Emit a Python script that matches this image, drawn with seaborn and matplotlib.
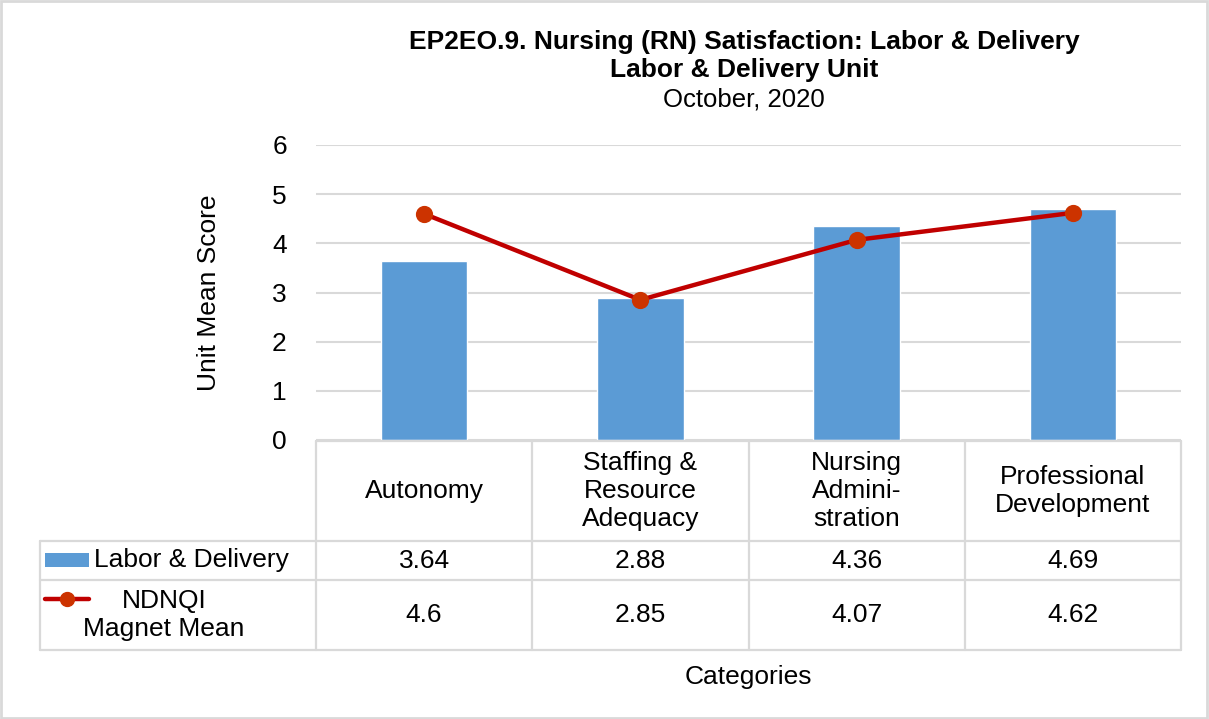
import matplotlib
matplotlib.use("Agg")
import matplotlib.pyplot as plt
import seaborn as sns
import pandas as pd
from matplotlib.patches import Rectangle
from matplotlib.lines import Line2D

# ---- data ----
categories = ["Autonomy", "Staffing &\nResource\nAdequacy", "Nursing\nAdmini-\nstration",
              "Professional\nDevelopment"]
labor_delivery = [3.64, 2.88, 4.36, 4.69]
ndnqi_magnet = [4.6, 2.85, 4.07, 4.62]
ld_labels = ["3.64", "2.88", "4.36", "4.69"]
nd_labels = ["4.6", "2.85", "4.07", "4.62"]
series_names = ["Labor & Delivery", "NDNQI\nMagnet Mean"]
yticks = [0, 1, 2, 3, 4, 5, 6]
title_lines = ["EP2EO.9. Nursing (RN) Satisfaction: Labor & Delivery",
               "Labor & Delivery Unit", "October, 2020"]

BAR = "#5B9BD5"
LINE = "#C00000"
MARK = "#CC3300"
GRID = "#D9D9D9"
TXT = "black"

sns.set_theme(style="white")
plt.rcParams["font.family"] = ["Liberation Sans", "DejaVu Sans"]
plt.rcParams["text.color"] = TXT
plt.rcParams["axes.labelcolor"] = TXT
plt.rcParams["ytick.color"] = TXT
FS = 19
LS = 1.22

W, H = 1209, 719
fig = plt.figure(figsize=(W / 100, H / 100), dpi=100)


def fx(px):
    return px / W


def fy(py):
    return 1 - py / H


ax = fig.add_axes([fx(316), fy(440), fx(1181) - fx(316), fy(145) - fy(440)])
df = pd.DataFrame({"cat": categories, "ld": labor_delivery, "nd": ndnqi_magnet})
sns.barplot(data=df, x="cat", y="ld", color=BAR, width=0.4, saturation=1, ax=ax, zorder=2)
sns.pointplot(data=df, x="cat", y="nd", color=LINE, markers="o", ax=ax,
              linewidth=3.2, markersize=10)
for ln in ax.lines:
    ln.set_markerfacecolor(MARK)
    ln.set_markeredgecolor(MARK)
    ln.set_zorder(4)

ax.set_ylim(0, 6)
ax.set_xlim(-0.5, len(categories) - 0.5)
ax.set_yticks(yticks)
ax.set_yticklabels([str(t) for t in yticks], fontsize=FS)
ax.tick_params(axis="y", length=0, pad=21)
ax.set_xticks([])
ax.set_xlabel("")
ax.set_ylabel("Unit Mean Score", fontsize=FS, labelpad=37)
ax.yaxis.grid(True, color=GRID, linewidth=1.5, zorder=0)
ax.set_axisbelow(True)
for s in ax.spines.values():
    s.set_visible(False)

# ---- data table ----
fig.canvas.draw()
edges = [ax.transData.transform((i - 0.5, 0))[0] for i in range(len(categories) + 1)]
centers = [ax.transData.transform((i, 0))[0] for i in range(len(categories))]

top, r1, r2, bot = 441, 541, 580, 650
left = 40


def hline(y, x0, x1):
    fig.add_artist(Line2D([fx(x0), fx(x1)], [fy(y), fy(y)], transform=fig.transFigure,
                          color=GRID, linewidth=1.6))


def vline(x, y0, y1):
    fig.add_artist(Line2D([fx(x), fx(x)], [fy(y0), fy(y1)], transform=fig.transFigure,
                          color=GRID, linewidth=1.6))


hline(top, edges[0], edges[-1])
for y in (r1, r2, bot):
    hline(y, left, edges[-1])
for e in edges:
    vline(e, top, bot)
vline(left, r1, bot)

for c, lab in zip(centers, categories):
    fig.text(fx(c), fy((top + r1) / 2), lab, ha="center", va="center", fontsize=FS,
             linespacing=LS)
for c, lab in zip(centers, ld_labels):
    fig.text(fx(c), fy((r1 + r2) / 2), lab, ha="center", va="center", fontsize=FS)
for c, lab in zip(centers, nd_labels):
    fig.text(fx(c), fy((r2 + bot) / 2), lab, ha="center", va="center", fontsize=FS)

# legend keys
fig.add_artist(Rectangle((fx(45), fy(567)), fx(89) - fx(45), fy(553) - fy(567),
                         transform=fig.transFigure, facecolor=BAR, edgecolor="none"))
fig.text(fx(94), fy((r1 + r2) / 2), series_names[0], ha="left", va="center", fontsize=FS)
fig.add_artist(Line2D([fx(45), fx(89)], [fy(599), fy(599)], transform=fig.transFigure,
                      color=LINE, linewidth=3.2, solid_capstyle="round"))
fig.add_artist(Line2D([fx(67)], [fy(599)], transform=fig.transFigure, marker="o",
                      markersize=10, color=MARK, linestyle="none"))
fig.text(fx(164), fy((r2 + bot) / 2), series_names[1], ha="center", va="center",
         fontsize=FS, multialignment="center", linespacing=LS)

fig.text(fx((edges[0] + edges[-1]) / 2), fy(677), "Categories", ha="center", va="center",
         fontsize=FS)

# ---- titles ----
fig.text(fx(744), fy(42), title_lines[0], ha="center", va="center", fontsize=19,
         fontweight="bold")
fig.text(fx(744), fy(70), title_lines[1], ha="center", va="center", fontsize=19,
         fontweight="bold")
fig.text(fx(744), fy(100), title_lines[2], ha="center", va="center", fontsize=18.5)

fig.add_artist(Rectangle((0.001, 0.001), 0.997, 0.997, transform=fig.transFigure,
                         fill=False, edgecolor=GRID, linewidth=2))

fig.savefig("out.png", dpi=100)
